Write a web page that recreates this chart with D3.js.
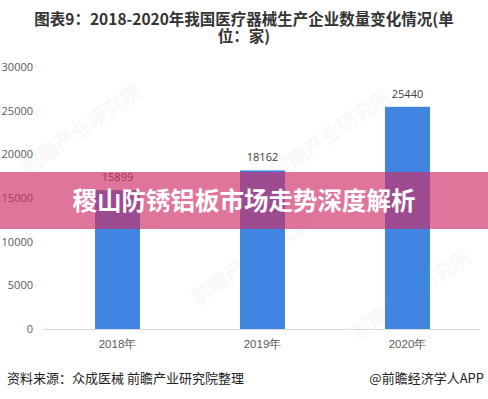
<!DOCTYPE html>
<html>
<head>
<meta charset="utf-8">
<script src="https://cdn.jsdelivr.net/npm/d3@7"></script>
<style>
  html, body { margin: 0; padding: 0; background: #fff; }
  svg { display: block; font-family: "Noto Sans CJK SC", "Noto Sans", sans-serif; }
</style>
</head>
<body>
<div id="chart"></div>
<script>
const years = ['2018年', '2019年', '2020年'];
const counts = [15899, 18162, 25440];
const yTicks = [0, 5000, 10000, 15000, 20000, 25000, 30000];

const titleLines = ['图表9：2018-2020年我国医疗器械生产企业数量变化情况(单', '位：家)'];
const bannerText = '稷山防锈铝板市场走势深度解析';
const sourceText = '资料来源：众成医械 前瞻产业研究院整理';
const brandText = '@前瞻经济学人APP';

const width = 488, height = 399;

const svg = d3.select('#chart')
  .append('svg')
  .attr('width', width)
  .attr('height', height);

svg.append('rect')
  .attr('width', width)
  .attr('height', height)
  .attr('fill', '#fff');

const x = d3.scaleBand()
  .domain(years)
  .range([45, 480])
  .paddingInner(0.69)
  .paddingOuter(0.345);

const y = d3.scaleLinear()
  .domain([0, 30000])
  .range([329, 67]);

// faint watermarks
const marks = [[85, 135], [335, 140], [255, 265], [415, 300]];
svg.append('g')
  .selectAll('text')
  .data(marks)
  .enter()
  .append('text')
  .attr('transform', d => `translate(${d[0]},${d[1]}) rotate(-35)`)
  .attr('text-anchor', 'middle')
  .attr('font-size', 20)
  .attr('font-weight', 'bold')
  .attr('fill', '#000')
  .attr('opacity', 0.025)
  .text('前瞻产业研究院');

// title
svg.append('g')
  .selectAll('text')
  .data(titleLines)
  .enter()
  .append('text')
  .attr('x', width / 2)
  .attr('y', (d, i) => 25 + i * 17)
  .attr('text-anchor', 'middle')
  .attr('font-size', 15.5)
  .attr('font-weight', 'bold')
  .attr('fill', '#333')
  .text(d => d);

// y axis labels
const yAxis = svg.append('g')
  .attr('transform', 'translate(33,0)')
  .call(d3.axisLeft(y).tickValues(yTicks).tickFormat(d3.format('d')).tickSize(0).tickPadding(0));
yAxis.select('.domain').remove();
yAxis.selectAll('text')
  .attr('font-size', 11)
  .attr('fill', '#595959')
  .attr('font-family', '"Open Sans", "Noto Sans", sans-serif');

// bars
svg.append('g')
  .selectAll('rect')
  .data(counts)
  .enter()
  .append('rect')
  .attr('x', (d, i) => x(years[i]))
  .attr('y', d => y(d))
  .attr('width', x.bandwidth())
  .attr('height', d => y(0) - y(d))
  .attr('fill', '#3f85e1');

// value labels
svg.append('g')
  .selectAll('text')
  .data(counts)
  .enter()
  .append('text')
  .attr('x', (d, i) => x(years[i]) + x.bandwidth() / 2)
  .attr('y', d => y(d) - 9)
  .attr('text-anchor', 'middle')
  .attr('font-size', 11)
  .attr('fill', '#404040')
  .attr('font-family', '"Open Sans", "Noto Sans", sans-serif')
  .text(d => d);

// x axis
const xAxis = svg.append('g')
  .attr('transform', `translate(0,${y(0)})`)
  .call(d3.axisBottom(x).tickSize(0).tickPadding(11));
xAxis.select('.domain')
  .attr('stroke', '#d9d9d9')
  .attr('d', 'M43,0.5H480');
xAxis.selectAll('text')
  .attr('font-size', 11.5)
  .attr('fill', '#595959');

// overlay banner
svg.append('rect')
  .attr('x', 0)
  .attr('y', 172)
  .attr('width', width)
  .attr('height', 57)
  .attr('fill', 'rgb(206,45,103)')
  .attr('opacity', 0.66);

svg.append('text')
  .attr('x', 244)
  .attr('y', 210)
  .attr('text-anchor', 'middle')
  .attr('font-size', 24.5)
  .attr('font-weight', 'bold')
  .attr('fill', '#fff')
  .text(bannerText);

// footer
svg.append('text')
  .attr('x', 7)
  .attr('y', 383)
  .attr('font-size', 13)
  .attr('fill', '#222')
  .text(sourceText);

svg.append('text')
  .attr('x', 484)
  .attr('y', 383)
  .attr('text-anchor', 'end')
  .attr('font-size', 13)
  .attr('fill', '#222')
  .text(brandText);
</script>
</body>
</html>
